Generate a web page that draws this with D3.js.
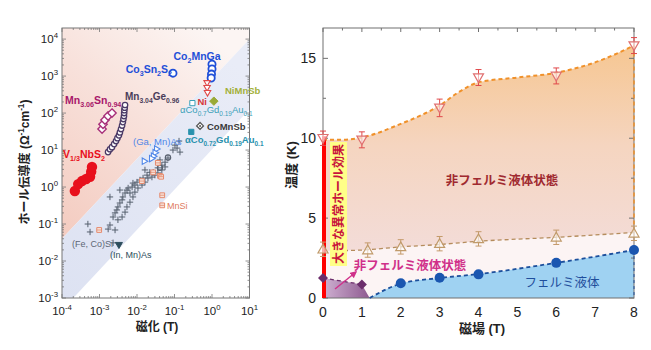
<!DOCTYPE html>
<html>
<head>
<meta charset="utf-8">
<script src="https://cdn.jsdelivr.net/npm/d3@7"></script>
<style>
body { margin: 0; background: #fff; }
svg { display: block; font-family: "Liberation Sans", "Noto Sans CJK JP", sans-serif; }
</style>
</head>
<body>
<svg id="chart" width="651" height="350"></svg>
<script>
// ---------- left panel: [magnetization (T), Hall conductivity (S/cm)]
const v13nbs2 = [[2.2e-4,0.78],[2.7e-4,1.2],[3.4e-4,1.45],[4.4e-4,1.65],[5.6e-4,1.9],[6.0e-4,2.6],[6.3e-4,3.5]];
const mn3sn = [[1.17e-3,37],[1.24e-3,50],[1.4e-3,65],[1.69e-3,83],[2.15e-3,100]];
const mn3ge = [[1.69e-3,8.8],[1.9e-3,10.5],[2.15e-3,12],[2.45e-3,14.5],[2.75e-3,17.5],[3.0e-3,21],[3.3e-3,25],
               [3.5e-3,30],[3.75e-3,37],[4.0e-3,46],[4.2e-3,57],[4.35e-3,69],[4.5e-3,83],[4.55e-3,100],
               [4.6e-3,120],[4.7e-3,140],[4.8e-3,165]];
const co3sn2s2 = [[0.091,1200]];
const co2mnga = [[1.0,2100],[1.0,1550],[0.97,1130],[0.95,890]];
const ni = [[0.74,650],[0.74,480],[0.76,350]];
const nimnsb = [[1.12,210]];
const coGdAuA = [[0.30,186]];
const coGdAuB = [[0.28,31]];
const comnsb = [[0.48,45]];
const gamnas = [[0.034,10.7],[0.031,8.5],[0.028,6.8],[0.025,5.9],[0.016,5.0]];
const mnsi = [[0.036,4.5],[0.027,2.5],[0.041,2.0],[0.0135,1.45],[0.044,1.9],[0.047,0.6],[0.047,0.32],[9.8e-4,0.069]];
const inmnas = [[0.0033,0.027]];
const grayRings = [[0.067,6.3],[0.041,3.3]];
const fecosi = [
  [0.132,17.5],[0.103,13.6],[0.117,11.3],[0.091,10],[0.14,8.8],[0.056,4.7],[0.046,3.9],[0.036,3.3],
  [0.027,2.5],[0.022,2.5],[0.0185,2.1],[0.0145,1.75],[0.012,1.55],[0.01,1.36],[0.0078,1.28],[0.0074,1.0],
  [0.0058,0.94],[0.0054,0.83],[0.0048,0.69],[0.0042,0.54],[0.004,0.45],[0.0035,0.37],[0.0031,0.29],
  [0.0029,0.24],[0.0026,0.2],[0.0023,0.155],[0.0031,0.13],[0.004,0.155],[0.0048,0.21],[0.0054,0.29],
  [0.0065,0.39],[0.0078,0.54],[0.0088,0.73],[0.0106,0.94],[0.0136,1.13],[0.0163,1.36],[0.0196,1.75],
  [0.025,1.86],[0.030,2.1],[0.036,2.4],[0.046,2.9],[0.056,3.5],[0.0019,0.54],[0.0019,0.094],[0.0026,0.069],
  [4.9e-4,0.1],[5.6e-4,0.061],[0.0017,0.073],[0.0023,0.031],[0.0035,0.83],[0.0065,0.69],[0.0088,1.13],
  [0.0163,2.9],[0.041,5.4],[0.067,6.1]
];
// band edges (slope ~1 lines)
const bandUpper = [[1e-4,Math.pow(10,-1.4)],[10,1e4]];
const bandLower = [[Math.pow(10,-3.7),1e-3],[10,Math.pow(10,2.1)]];
const xDecades = [-4,-3,-2,-1,0,1];
const yDecades = [-3,-2,-1,0,1,2,3,4];

// ---------- right panel: field (T) vs temperature (K)
const upField = [0,1,3,4,6,8];
const upTemp = [10.0,9.9,11.9,13.8,13.9,15.8];
const upErr = [0.45,0.5,0.55,0.5,0.5,0.5];
const midField = [0,1.15,2,3,4,6,8];
const midTemp = [3.05,3.0,3.2,3.4,3.7,3.8,4.05];
const midErr = [0.45,0.45,0.45,0.45,0.45,0.45,0.45];
const flField = [2,3,4,6,8];
const flTemp = [0.92,1.27,1.48,2.2,3.0];
const dmField = [0,1];
const dmTemp = [1.25,0.85];
const upFit = [[0,9.9],[0.5,9.9],[1,10.05],[2,10.9],[3,12.05],[3.5,12.9],[4,13.5],[5,13.8],[6,14.1],[7,14.75],[8,15.8]];
const midFit = [[0,2.95],[1,3.0],[2,3.2],[3,3.35],[4,3.55],[6,3.8],[8,4.1]];
const flFit = [[1.2,0],[2,0.9],[3,1.25],[4,1.5],[6,2.2],[8,3.0]];
const dmRegion = [[0,0],[0,1.25],[1,0.85],[1.2,0]];
const bTicks = [0,1,2,3,4,5,6,7,8];
const tTicks = [0,5,10,15];

const svg = d3.select('#chart');
const defs = svg.append('defs');

function rich(sel, str, size) {
  const re = /([_^])\{([^}]*)\}|([^_^]+)/g;
  let m, shift = 0;
  while ((m = re.exec(str))) {
    if (m[3]) {
      sel.append('tspan').attr('dy', -shift).text(m[3]);
      shift = 0;
    } else {
      const d = m[1] === '_' ? size * 0.3 : -size * 0.42;
      sel.append('tspan').attr('dy', d - shift).attr('font-size', size * 0.68).text(m[2]);
      shift = d;
    }
  }
}

function lin(id, x1, y1, x2, y2, stops) {
  const g = defs.append('linearGradient').attr('id', id)
    .attr('gradientUnits', 'userSpaceOnUse')
    .attr('x1', x1).attr('y1', y1).attr('x2', x2).attr('y2', y2);
  stops.forEach(s => g.append('stop').attr('offset', s[0]).attr('stop-color', s[1]));
}

const diamond = r => `M0,${-r}L${r},0L0,${r}L${-r},0Z`;
const triDown = r => `M${-r},${-r*0.75}L${r},${-r*0.75}L0,${r}Z`;
const triUp = r => `M${-r},${r*0.75}L${r},${r*0.75}L0,${-r}Z`;
const triRight = r => `M${-r*0.75},${-r}L${-r*0.75},${r}L${r},0Z`;
const plus = r => `M${-r},0H${r}M0,${-r}V${r}`;
const square = r => `M${-r},${-r}H${r}V${r}H${-r}Z`;

// ======================= LEFT PANEL =======================
const x = d3.scaleLog().domain([1e-4, 10]).range([62, 249.5]);
const y = d3.scaleLog().domain([1e-3, Math.pow(10, 4.3)]).range([298, 28]);
const L = svg.append('g');

lin('pinkG', x(1e-4), y(1e-1), x(1), y(1e4), [[0,'#f4cdc2'],[0.55,'#f8e1db'],[1,'#fcf5f3']]);
lin('blueG', x(1e-4), y(1e-3), x(10), y(1e3), [[0,'#dde2f2'],[1,'#e9ecf7']]);

const yTop = y.domain()[1];
const pinkPoly = [bandUpper[0], bandUpper[1], [10, yTop], [1e-4, yTop]];
const bluePoly = [bandUpper[0], bandUpper[1], bandLower[1], bandLower[0], [1e-4, 1e-3]];
const poly = d3.line().x(d => x(d[0])).y(d => y(d[1]));
L.append('path').attr('d', poly(pinkPoly) + 'Z').attr('fill', 'url(#pinkG)');
L.append('path').attr('d', poly(bluePoly) + 'Z').attr('fill', 'url(#blueG)');

// frame + ticks
L.append('rect').attr('x', x(1e-4)).attr('y', y(yTop)).attr('width', x(10) - x(1e-4))
  .attr('height', y(1e-3) - y(yTop)).attr('fill', 'none').attr('stroke', '#777').attr('stroke-width', 1);
const tk = L.append('g').attr('stroke', '#777').attr('stroke-width', 0.8);
xDecades.forEach(e => {
  for (let k = 1; k <= 9; k++) {
    const v = k * Math.pow(10, e);
    if (v > 10) break;
    const len = k === 1 ? 4 : 2;
    tk.append('line').attr('x1', x(v)).attr('x2', x(v)).attr('y1', y(1e-3)).attr('y2', y(1e-3) - len);
    tk.append('line').attr('x1', x(v)).attr('x2', x(v)).attr('y1', y(yTop)).attr('y2', y(yTop) + len);
  }
});
yDecades.forEach(e => {
  for (let k = 1; k <= 9; k++) {
    const v = k * Math.pow(10, e);
    if (v > yTop) break;
    const len = k === 1 ? 4 : 2;
    tk.append('line').attr('y1', y(v)).attr('y2', y(v)).attr('x1', x(1e-4)).attr('x2', x(1e-4) + len);
    tk.append('line').attr('y1', y(v)).attr('y2', y(v)).attr('x1', x(10)).attr('x2', x(10) - len);
  }
});
xDecades.forEach(e => {
  const t = L.append('text').attr('x', x(Math.pow(10, e))).attr('y', 315)
    .attr('text-anchor', 'middle').attr('font-size', 11.5).attr('fill', '#222');
  rich(t, `10^{${e}}`, 11.5);
});
yDecades.forEach(e => {
  const t = L.append('text').attr('x', 58).attr('y', y(Math.pow(10, e)) + 4)
    .attr('text-anchor', 'end').attr('font-size', 11.5).attr('fill', '#222');
  rich(t, `10^{${e}}`, 11.5);
});
L.append('text').attr('x', 157).attr('y', 331).attr('text-anchor', 'middle')
  .attr('font-size', 12).attr('font-weight', 'bold').attr('fill', '#222').text('磁化 (T)');
const yt = L.append('text').attr('transform', 'translate(29,162) rotate(-90)').attr('text-anchor', 'middle')
  .attr('font-size', 12).attr('font-weight', 'bold').attr('fill', '#222');
rich(yt, 'ホール伝導度 (Ω^{-1}cm^{-1})', 12);

// markers
function marks(data, shape, r, fill, stroke, sw) {
  L.append('g').selectAll('path').data(data).join('path')
    .attr('transform', d => `translate(${x(d[0])},${y(d[1])})`)
    .attr('d', shape(r)).attr('fill', fill).attr('stroke', stroke).attr('stroke-width', sw);
}
function dots(data, r, fill, stroke, sw) {
  L.append('g').selectAll('circle').data(data).join('circle')
    .attr('cx', d => x(d[0])).attr('cy', d => y(d[1])).attr('r', r)
    .attr('fill', fill).attr('stroke', stroke).attr('stroke-width', sw);
}
marks(fecosi, plus, 3.2, 'none', '#56606e', 1);
dots(grayRings, 2.6, 'none', '#5a6270', 1.2);
marks(mnsi, square, 2.4, '#f6e4dc', '#e58a6e', 1);
L.append('g').selectAll('line').data(mnsi).join('line')
  .attr('x1', d => x(d[0]) - 2.4).attr('x2', d => x(d[0]) + 2.4)
  .attr('y1', d => y(d[1])).attr('y2', d => y(d[1])).attr('stroke', '#e58a6e').attr('stroke-width', 0.8);
marks(gamnas, triRight, 3.2, '#fff', '#4f86e8', 1.1);
marks(inmnas, triDown, 3.5, '#2d4e5c', '#2d4e5c', 1);
dots(v13nbs2, 5.2, '#e8101c', 'none', 0);
marks(mn3sn, diamond, 4.2, '#fff', '#a8307a', 1.4);
dots(mn3ge, 2.7, '#fff', '#4b3a66', 1.3);
dots(co3sn2s2, 3.6, '#fff', '#1f4fd8', 1.8);
dots(co2mnga, 3.6, '#fff', '#1f4fd8', 1.8);
marks(ni, triDown, 3.2, '#fff', '#e04848', 1.1);
marks(nimnsb, diamond, 4.2, '#9aaa36', '#9aaa36', 1);
marks(coGdAuA, square, 2.6, '#fff', '#3aa0b8', 1);
marks(coGdAuB, square, 2.6, '#2a92ae', '#2a92ae', 1);
marks(comnsb, diamond, 3.4, '#fff', '#555', 1.3);
dots(comnsb, 1, '#555', 'none', 0);

// labels
const leftNotes = [
  {t: 'Co_{2}MnGa', x: 197, y: 60, c: '#1f4fd8', s: 10.5, w: 'bold', a: 'middle'},
  {t: 'Co_{3}Sn_{2}S_{2}', x: 172, y: 73, c: '#1f4fd8', s: 10.5, w: 'bold', a: 'end'},
  {t: 'Mn_{3.06}Sn_{0.94}', x: 65, y: 104, c: '#a8186a', s: 10.5, w: 'bold', a: 'start'},
  {t: 'Mn_{3.04}Ge_{0.96}', x: 125, y: 100, c: '#4a3d5a', s: 10, w: 'bold', a: 'start'},
  {t: 'V_{1/3}NbS_{2}', x: 63, y: 158, c: '#e8101c', s: 10.5, w: 'bold', a: 'start'},
  {t: 'NiMnSb', x: 225, y: 94, c: '#a3b03a', s: 9.5, w: 'bold', a: 'start'},
  {t: 'Ni', x: 207, y: 105, c: '#d83838', s: 9.5, w: 'bold', a: 'end'},
  {t: 'αCo_{0.7}Gd_{0.19}Au_{0.1}', x: 180, y: 113, c: '#3aa0b8', s: 9.5, w: 'normal', a: 'start'},
  {t: 'CoMnSb', x: 207, y: 130, c: '#3a3a3a', s: 9.5, w: 'bold', a: 'start'},
  {t: 'αCo_{0.72}Gd_{0.19}Au_{0.1}', x: 185, y: 143, c: '#2a92ae', s: 9.5, w: 'bold', a: 'start'},
  {t: '(Ga, Mn)As', x: 133, y: 145, c: '#4f86e8', s: 9.5, w: 'normal', a: 'start'},
  {t: 'MnSi', x: 167, y: 209, c: '#e07a5c', s: 9, w: 'normal', a: 'start'},
  {t: '(Fe, Co)Si', x: 72, y: 247, c: '#5d6775', s: 9, w: 'normal', a: 'start'},
  {t: '(In, Mn)As', x: 110, y: 258, c: '#2d4e5c', s: 9, w: 'normal', a: 'start'}
];
leftNotes.forEach(n => {
  const t = L.append('text').attr('x', n.x).attr('y', n.y).attr('fill', n.c)
    .attr('font-size', n.s).attr('font-weight', n.w).attr('text-anchor', n.a);
  rich(t, n.t, n.s);
});

// ======================= RIGHT PANEL =======================
const bx = d3.scaleLinear().domain([0, 8]).range([323, 634]);
const ty = d3.scaleLinear().domain([0, 16.9]).range([298, 28]);
const R = svg.append('g');

lin('orangeG', 0, ty(16), 0, ty(3), [[0,'#f6c690'],[0.5,'#f5d5c0'],[1,'#f3dcd8']]);
lin('purpleG', bx(0), 0, bx(1.2), 0, [[0,'#cfb1d2'],[1,'#8e5a90']]);

const curve = d3.line().x(d => bx(d[0])).y(d => ty(d[1])).curve(d3.curveMonotoneX);
const under = d3.area().x(d => bx(d[0])).y0(ty(0)).y1(d => ty(d[1])).curve(d3.curveMonotoneX);
R.append('path').attr('d', under(upFit)).attr('fill', 'url(#orangeG)');
R.append('path').attr('d', under(midFit)).attr('fill', '#fcf4f4');
R.append('path').attr('d', under(flFit)).attr('fill', '#9fd2f2');
R.append('path').attr('d', d3.line().x(d => bx(d[0])).y(d => ty(d[1]))(dmRegion) + 'Z').attr('fill', 'url(#purpleG)');

// frame + ticks
const fr = R.append('g').attr('stroke', '#707070').attr('stroke-width', 1).attr('fill', 'none');
fr.append('rect').attr('x', bx(0)).attr('y', ty(16.9)).attr('width', bx(8) - bx(0)).attr('height', ty(0) - ty(16.9));
for (let v = 0; v <= 8; v += 0.5) {
  const len = v % 1 === 0 ? 4 : 2.5;
  fr.append('line').attr('x1', bx(v)).attr('x2', bx(v)).attr('y1', ty(16.9)).attr('y2', ty(16.9) + len);
}
for (let v = 0; v <= 16.9; v += 2.5) {
  const len = v % 5 === 0 ? 5 : 3;
  fr.append('line').attr('y1', ty(v)).attr('y2', ty(v)).attr('x1', bx(0)).attr('x2', bx(0) + len);
  fr.append('line').attr('y1', ty(v)).attr('y2', ty(v)).attr('x1', bx(8)).attr('x2', bx(8) - len);
}
R.append('g').selectAll('text').data(bTicks).join('text')
  .attr('x', d => bx(d)).attr('y', 317).attr('text-anchor', 'middle')
  .attr('font-size', 14).attr('fill', '#222').text(d => d);
R.append('g').selectAll('text').data(tTicks).join('text')
  .attr('x', 316).attr('y', d => ty(d) + 5).attr('text-anchor', 'end')
  .attr('font-size', 14).attr('fill', '#222').text(d => d);
R.append('text').attr('x', 482).attr('y', 333).attr('text-anchor', 'middle')
  .attr('font-size', 13).attr('font-weight', 'bold').attr('fill', '#222').text('磁場  (T)');
R.append('text').attr('transform', 'translate(296,165) rotate(-90)').attr('text-anchor', 'middle')
  .attr('font-size', 13).attr('font-weight', 'bold').attr('fill', '#222').text('温度 (K)');

// fitted boundaries
R.append('path').attr('d', curve(upFit)).attr('fill', 'none').attr('stroke', '#f0912a')
  .attr('stroke-width', 2).attr('stroke-dasharray', '4,3');
R.append('line').attr('x1', bx(8)).attr('x2', bx(8)).attr('y1', ty(upFit[upFit.length - 1][1])).attr('y2', ty(midFit[midFit.length - 1][1]))
  .attr('stroke', '#f0912a').attr('stroke-width', 1.5).attr('stroke-dasharray', '4,3');
R.append('path').attr('d', curve(midFit)).attr('fill', 'none').attr('stroke', '#b58c5c')
  .attr('stroke-width', 1.3).attr('stroke-dasharray', '4,3');
R.append('path').attr('d', curve(flFit)).attr('fill', 'none').attr('stroke', '#1c4f9c')
  .attr('stroke-width', 1.8).attr('stroke-dasharray', '4,3');
R.append('line').attr('x1', bx(8)).attr('x2', bx(8)).attr('y1', ty(flFit[flFit.length - 1][1])).attr('y2', ty(0))
  .attr('stroke', '#1c4f9c').attr('stroke-width', 1).attr('stroke-dasharray', '3,3');
R.append('path').attr('d', d3.line().x(d => bx(d[0])).y(d => ty(d[1]))(dmRegion.slice(1, 3)))
  .attr('fill', 'none').attr('stroke', '#6b2d6b').attr('stroke-width', 1.3).attr('stroke-dasharray', '4,3');

// anomalous Hall bar at zero field
R.append('line').attr('x1', bx(0) + 1).attr('x2', bx(0) + 1).attr('y1', ty(0)).attr('y2', ty(upTemp[0]) - 2)
  .attr('stroke', '#ff0000').attr('stroke-width', 4);

// error bars + markers
function errBars(fx, tv, er, color) {
  const g = R.append('g').attr('stroke', color).attr('stroke-width', 1);
  fx.forEach((b, i) => {
    const cx = bx(b);
    g.append('line').attr('x1', cx).attr('x2', cx).attr('y1', ty(tv[i] - er[i])).attr('y2', ty(tv[i] + er[i]));
    [tv[i] - er[i], tv[i] + er[i]].forEach(v =>
      g.append('line').attr('x1', cx - 3).attr('x2', cx + 3).attr('y1', ty(v)).attr('y2', ty(v)));
  });
}
errBars(upField, upTemp, upErr, '#e0484a');
errBars(midField, midTemp, midErr, '#c49a6a');
R.append('g').selectAll('path').data(upField).join('path')
  .attr('transform', (d, i) => `translate(${bx(d)},${ty(upTemp[i])})`)
  .attr('d', triDown(5)).attr('fill', '#fff').attr('fill-opacity', 0.6).attr('stroke', '#e07070').attr('stroke-width', 1.2);
R.append('g').selectAll('path').data(midField).join('path')
  .attr('transform', (d, i) => `translate(${bx(d)},${ty(midTemp[i])})`)
  .attr('d', triUp(5)).attr('fill', '#fff').attr('fill-opacity', 0.6).attr('stroke', '#c09a6a').attr('stroke-width', 1.2);
R.append('g').selectAll('circle').data(flField).join('circle')
  .attr('cx', d => bx(d)).attr('cy', (d, i) => ty(flTemp[i])).attr('r', 5).attr('fill', '#1a56b0');
R.append('g').selectAll('path').data(dmField).join('path')
  .attr('transform', (d, i) => `translate(${bx(d)},${ty(dmTemp[i])})`)
  .attr('d', diamond(5)).attr('fill', '#6b2d6b');

// annotations
R.append('rect').attr('x', 330).attr('y', 142).attr('width', 17).attr('height', 124).attr('fill', '#ffff88');
R.append('text').attr('transform', 'translate(343,204) rotate(-90)').attr('text-anchor', 'middle')
  .attr('font-size', 12).attr('font-weight', 'bold').attr('fill', '#c8143c').text('大きな異常ホール効果');
R.append('text').attr('x', 502).attr('y', 185).attr('text-anchor', 'middle')
  .attr('font-size', 12.5).attr('font-weight', 'bold').attr('fill', '#a02a30').text('非フェルミ液体状態');
R.append('text').attr('x', 410).attr('y', 270).attr('text-anchor', 'middle')
  .attr('font-size', 12.5).attr('font-weight', 'bold').attr('fill', '#d0308a').text('非フェルミ液体状態');
R.append('text').attr('x', 562).attr('y', 287).attr('text-anchor', 'middle')
  .attr('font-size', 12.5).attr('fill', '#1f4e9c').text('フェルミ液体');
defs.append('marker').attr('id', 'arrowM').attr('viewBox', '0 0 10 10').attr('refX', 8).attr('refY', 5)
  .attr('markerWidth', 5).attr('markerHeight', 5).attr('orient', 'auto')
  .append('path').attr('d', 'M0,0L10,5L0,10Z').attr('fill', '#d0308a');
R.append('line').attr('x1', 335).attr('y1', 289).attr('x2', 356).attr('y2', 272)
  .attr('stroke', '#d0308a').attr('stroke-width', 1.4).attr('marker-end', 'url(#arrowM)');
</script>
</body>
</html>
